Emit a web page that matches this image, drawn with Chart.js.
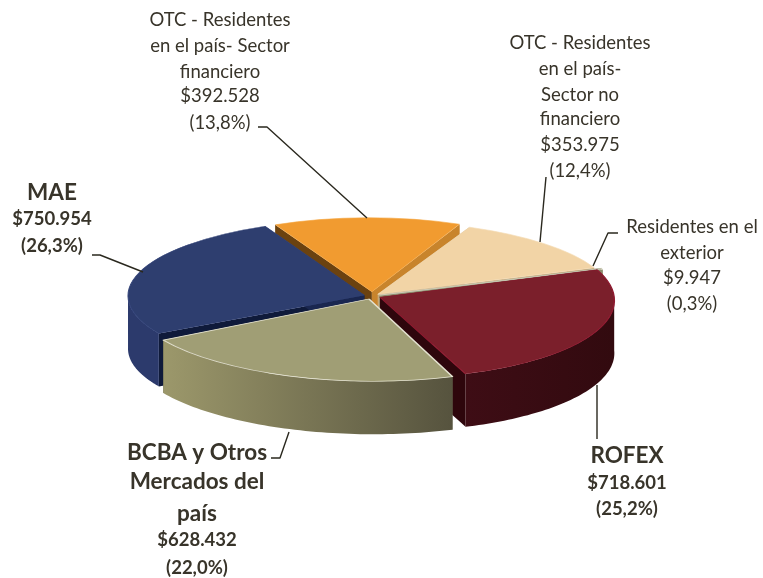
<!DOCTYPE html>
<html>
<head>
<meta charset="utf-8">
<style>html,body{margin:0;padding:0;background:#fff}#wrap{position:relative;width:763px;height:578px}</style>
<script src="https://cdn.jsdelivr.net/npm/chart.js@4/dist/chart.umd.min.js"></script>
</head>
<body>
<div id="wrap"><canvas id="c" width="763" height="578"></canvas></div>
<script>
// ---- data ----
const categories = ["MAE","OTC - Residentes en el país - Sector financiero","OTC - Residentes en el país - Sector no financiero","Residentes en el exterior","ROFEX","BCBA y Otros Mercados del país"];
const seriesValues = [750954,392528,353975,9947,718601,628432];
const valueLabels = ["$750.954","$392.528","$353.975","$9.947","$718.601","$628.432"];
const percentLabels = ["(26,3%)","(13,8%)","(12,4%)","(0,3%)","(25,2%)","(22,0%)"];
const nameLines = [["MAE"],["OTC - Residentes","en el país- Sector","financiero"],["OTC - Residentes","en el país-","Sector no","financiero"],["Residentes en el","exterior"],["ROFEX"],["BCBA y Otros","Mercados del","país"]];

// ---- styles ----
const topColors = ["#2e3e6f","#f19b30","#f2d4a6","#a3a283","#7b1f2b","#a09e75"];
const borderColors = ["#34447a","#f5a63f","#f5dcb5","#d4d3c0","#8f1a30","#e4e2d0"];
const borderWidths = [1,1,1,1,1.5,2];
const sliceOffsets = [8,14,8,8,9,9];
const sliceTilts = [0.325,0.31,0.31,0.31,0.345,0.35];
const sliceScaleX = [0.0056,-0.075,-0.014,-0.014,-0.004,0.021];   // slight perspective: widening per slice
const sliceShearX = [-0.007,0.012,0.021,0.021,0.037,0.02];        // slight perspective: shear per slice
const startWall = ["#0f1a3a","#6b4210","#c8a878","#8c8b6c","#2e060c","#6b6850"];
const endWall = ["#1a2750","#c8842c","#c8a878","#8c8b6c","#2e060c","#56533e"];
const outerWall = [["#2c3a6c","#2c3a6c"],["#a86c20","#a86c20"],["#c8a878","#c8a878"],["#8c8b6c","#8c8b6c"],["#3e0d15","#320a0f"],["#9c986b","#56533e"]];
const drawOrder = [1,2,3,0,4,5];
const cx = 372, cyT = 296, depth = 53, radius = 235;
const textColor = "#38342a", lineColor = "#2a281e";
const sansFont = "Lato, 'Open Sans', sans-serif";

const N = "400 18.5px " + sansFont, B = "700 18.5px " + sansFont, H = "700 22.5px " + sansFont;
const labelLayout = [
  [52, [200,225,252], [H,B,B]],
  [220, [26,52,78,102,129], [N,N,N,N,N]],
  [580, [49,75,101,125,151,177], [N,N,N,N,N,N]],
  [692, [233,259,284,310], [N,N,N,N]],
  [627, [463,489,515], [H,B,B]],
  [197, [460,489,521,546,574], [H,H,H,B,B]]
];
const leaderLines = [
  [[92,255],[100,255],[143,272]],
  [[258,127],[267,127],[367,218]],
  [[546,177],[540,242]],
  [[618,233],[608,233],[593,266]],
  [[597,385],[597,439]],
  [[271,458],[280,458],[289,432]]
];

const pie3d = {
  id: "pie3d",
  beforeDatasetDraw(chart, args) {
    const ctx = chart.ctx, arcs = args.meta.data;
    drawOrder.forEach(i => {
      const a = arcs[i], rt = sliceTilts[i], sx = 1 + sliceScaleX[i], sh = sliceShearX[i];
      const s = a.startAngle, e = a.endAngle, c = e - s, h = (s + e) / 2;
      const off = a.options.offset / 4;
      const r = a.outerRadius + off * (1 - Math.sin(Math.min(Math.PI, c)));
      const ox = cx + Math.cos(h) * off, oy = cyT + Math.sin(h) * off * rt;
      const pt = t => [ox + sx * r * Math.cos(t) + sh * r * Math.sin(t), oy + r * rt * Math.sin(t)];
      const quad = (t, col) => {
        const p = pt(t);
        ctx.beginPath();
        ctx.moveTo(ox, oy); ctx.lineTo(p[0], p[1]); ctx.lineTo(p[0], p[1] + depth); ctx.lineTo(ox, oy + depth);
        ctx.closePath(); ctx.fillStyle = col; ctx.fill();
      };
      quad(s, startWall[i]);
      quad(e, endWall[i]);
      for (let k = -2; k <= 1; k++) {
        const lo = Math.max(s, 2 * Math.PI * k), hi = Math.min(e, Math.PI + 2 * Math.PI * k);
        if (hi <= lo) continue;
        const xs = [pt(lo)[0], pt(hi)[0]];
        const g = ctx.createLinearGradient(Math.min(...xs), 0, Math.max(...xs), 0);
        g.addColorStop(0, outerWall[i][0]); g.addColorStop(1, outerWall[i][1]);
        ctx.beginPath();
        const n = 60;
        for (let j = 0; j <= n; j++) { const p = pt(lo + (hi - lo) * j / n); j ? ctx.lineTo(p[0], p[1]) : ctx.moveTo(p[0], p[1]); }
        for (let j = n; j >= 0; j--) { const p = pt(lo + (hi - lo) * j / n); ctx.lineTo(p[0], p[1] + depth); }
        ctx.closePath(); ctx.fillStyle = g; ctx.fill();
      }
      // top face: the library's own arc, tilted about its own tip
      ctx.save();
      ctx.transform(sx, 0, sh, rt, ox, oy);
      ctx.translate(-(a.x + Math.cos(h) * off), -(a.y + Math.sin(h) * off));
      a.draw(ctx);
      ctx.restore();
    });
    return false;
  },
  afterDraw(chart) {
    const ctx = chart.ctx;
    ctx.save();
    ctx.strokeStyle = lineColor; ctx.lineWidth = 1.4; ctx.lineJoin = "round";
    leaderLines.forEach(l => {
      ctx.beginPath();
      l.forEach((p, j) => j ? ctx.lineTo(p[0], p[1]) : ctx.moveTo(p[0], p[1]));
      ctx.stroke();
    });
    ctx.fillStyle = textColor; ctx.textAlign = "center"; ctx.textBaseline = "alphabetic";
    categories.forEach((_, i) => {
      const lines = nameLines[i].concat([valueLabels[i], percentLabels[i]]);
      const [x, ys, fonts] = labelLayout[i];
      lines.forEach((t, j) => { ctx.font = fonts[j]; ctx.fillText(t, x, ys[j]); });
    });
    ctx.restore();
  }
};

new Chart(document.getElementById("c"), {
  type: "pie",
  data: {
    labels: categories,
    datasets: [{
      data: seriesValues,
      backgroundColor: topColors,
      borderColor: borderColors,
      borderWidth: borderWidths,
      offset: sliceOffsets.map(v => v * 4),
      clip: false
    }]
  },
  options: {
    responsive: false,
    animation: false,
    radius: radius,
    rotation: -120,
    layout: { padding: { right: 19 } },
    plugins: { legend: { display: false }, tooltip: { enabled: false }, title: { display: false } }
  },
  plugins: [pie3d]
});
</script>
</body>
</html>
